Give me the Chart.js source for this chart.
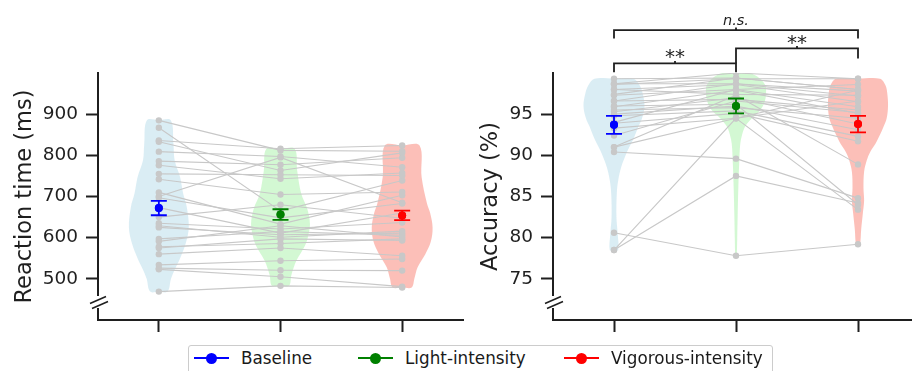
<!DOCTYPE html>
<html>
<head>
<meta charset="utf-8">
<script src="https://cdn.jsdelivr.net/npm/chart.js@4.4.1/dist/chart.umd.min.js"></script>
<style>
  html, body { margin: 0; padding: 0; background: #fff; overflow: hidden; width: 912px; height: 371px; }
  .panel { position: absolute; top: 0; width: 470px; height: 340px; }
  #legend { position: absolute; left: 188px; top: 345px; width: 585px; height: 34px; box-sizing: border-box;
            border: 1px solid #cccccc; border-radius: 3px; font-family: 'DejaVu Sans', sans-serif;
            font-size: 16.8px; color: #1a1a1a; }
  .item { position: absolute; top: 0; height: 24px; display: flex; align-items: center; white-space: nowrap; }
  .mark { position: relative; width: 35px; height: 2px; margin-right: 12px; }
  .mark i { position: absolute; left: 12px; top: -4.5px; width: 11px; height: 11px; border-radius: 50%; }
</style>
</head>
<body>
<div class="panel" style="left:0"><canvas id="rt"></canvas></div>
<div class="panel" style="left:456px"><canvas id="acc"></canvas></div>
<div id="legend"></div>
<script>
// conditions and colours of the mean markers
const conditions = ['Baseline', 'Light-intensity', 'Vigorous-intensity'];
const meanColors = ['blue', 'green', 'red'];

// reaction time (ms), one value per participant, same order in every array
const rtBaseline  = [885, 867, 836, 833, 809, 786, 776, 755, 742, 710, 700, 697, 673, 650, 635, 629, 625, 597, 591, 578, 575, 560, 534, 526, 523, 469];
const rtLight     = [812, 665, 816, 763, 797, 777, 743, 753, 705, 633, 795, 648, 611, 680, 621, 601, 607, 615, 629, 586, 597, 575, 544, 521, 505, 483];
const rtVigorous  = [810, 739, 824, 806, 771, 794, 757, 751, 711, 703, 685, 683, 660, 647, 637, 616, 611, 606, 602, 597, 593, 556, 548, 520, 481, 479];
const rtMeans  = [672, 656, 654];
const rtErrors = [17.5, 13, 11.5];
const rtTicks  = [500, 600, 700, 800, 900];

// accuracy (%)
const accBaseline = [99.3, 98.7, 98.7, 98.6, 98.0, 98.0, 97.4, 97.3, 96.6, 96.6, 96.0, 95.9, 95.5, 95.3, 95.0, 94.8, 94.0, 93.9, 93.3, 92.4, 91.0, 91.0, 90.4, 80.6, 78.5, 78.5];
const accLight    = [99.4, 100, 98.7, 99.3, 98.6, 97.4, 99.4, 98.0, 96.8, 98.7, 96.2, 97.9, 95.8, 97.0, 96.0, 95.4, 98.0, 95.1, 94.5, 96.6, 97.3, 94.5, 89.6, 77.8, 94.5, 87.5];
const accVigorous = [98.0, 99.3, 97.8, 99.3, 96.5, 97.3, 98.0, 95.9, 95.5, 97.2, 84.0, 95.1, 94.5, 93.8, 93.1, 92.3, 98.6, 91.7, 96.6, 95.2, 88.9, 83.4, 84.8, 79.2, 97.9, 84.2];
const accMeans  = [93.7, 96.0, 93.8];
const accErrors = [1.1, 0.9, 1.0];
const accTicks  = [75, 80, 85, 90, 95];
const accComparisons = [[0, 2, 'n.s.'], [0, 1, '**'], [1, 2, '**']];

// violin outlines: [value, half width]
const rtBaselineViolin = [[469, 0.072], [500, 0.1], [525, 0.135], [550, 0.175], [585, 0.22], [625, 0.246], [674, 0.23], [707, 0.2], [747, 0.175], [788, 0.13], [828, 0.12], [885, 0.098]];
const rtLightViolin = [[483, 0.07], [510, 0.09], [544, 0.13], [580, 0.2], [601, 0.225], [633, 0.242], [670, 0.22], [707, 0.17], [763, 0.137], [816, 0.116]];
const rtVigorousViolin = [[479, 0.078], [500, 0.1], [528, 0.127], [560, 0.19], [590, 0.235], [625, 0.25], [660, 0.23], [682, 0.205], [747, 0.16], [824, 0.143]];
const accBaselineViolin = [[78.5, 0.035], [80.5, 0.03], [82.5, 0.02], [85.4, 0.023], [87, 0.035], [88.6, 0.06], [90, 0.095], [91, 0.126], [92, 0.16], [93.5, 0.2], [94.5, 0.23], [96, 0.25], [97.5, 0.235], [98.5, 0.21], [99.3, 0.16]];
const accLightViolin = [[77.8, 0.006], [80, 0.01], [83, 0.014], [86, 0.019], [89, 0.026], [91.4, 0.035], [92.5, 0.05], [93.5, 0.075], [94.5, 0.13], [95.5, 0.2], [96.5, 0.235], [97.5, 0.246], [98.5, 0.24], [99.4, 0.19], [100, 0.11]];
const accVigorousViolin = [[79.2, 0.016], [81, 0.026], [83, 0.04], [84.5, 0.05], [86, 0.045], [88, 0.05], [89.4, 0.072], [90.4, 0.1], [91.4, 0.143], [92.5, 0.18], [93.5, 0.21], [94.5, 0.235], [96, 0.246], [97.5, 0.24], [98.5, 0.225], [99.3, 0.18]];

const AXIS = '#1f1f1f';
const violinColors = ['rgba(173,216,230,0.45)', 'rgba(144,238,144,0.4)', 'rgba(250,128,114,0.5)'];

Chart.defaults.font.family = "'DejaVu Sans', sans-serif";
Chart.defaults.color = AXIS;
Chart.defaults.animation = false;

function violinOutline(profile, i) {
  const lo = profile[0][0], hi = profile[profile.length - 1][0];
  const right = profile.map(([y, w]) => ({x: i + w, y}));
  const left = profile.slice().reverse().map(([y, w]) => ({x: i - w, y}));
  return [{x: i, y: lo}, ...right, {x: i, y: hi}, ...left, {x: i, y: lo}];
}

// mean +- error bars on top of everything
const errorBars = {
  id: 'errorBars',
  afterDatasetsDraw(chart, args, opts) {
    const {ctx, scales: {x, y}} = chart;
    ctx.save();
    ctx.lineWidth = 1.8;
    opts.means.forEach((m, i) => {
      const px = x.getPixelForValue(i);
      const top = y.getPixelForValue(m + opts.errors[i]);
      const bot = y.getPixelForValue(m - opts.errors[i]);
      ctx.strokeStyle = meanColors[i];
      ctx.beginPath();
      ctx.moveTo(px, top); ctx.lineTo(px, bot);
      ctx.moveTo(px - 8, top); ctx.lineTo(px + 8, top);
      ctx.moveTo(px - 8, bot); ctx.lineTo(px + 8, bot);
      ctx.stroke();
      ctx.fillStyle = meanColors[i];
      ctx.beginPath();
      ctx.arc(px, y.getPixelForValue(m), 4, 0, Math.PI * 2);
      ctx.fill();
    });
    ctx.restore();
  }
};

// broken y axis marks near the bottom
const axisBreak = {
  id: 'axisBreak',
  afterDraw(chart) {
    const {ctx, chartArea: {left, bottom}} = chart;
    ctx.save();
    ctx.fillStyle = '#fff';
    ctx.fillRect(left - 3, bottom - 24, 6, 12);
    ctx.strokeStyle = AXIS;
    ctx.lineWidth = 1.6;
    [[0, -20], [2, -15]].forEach(([dx, dy]) => {
      ctx.beginPath();
      ctx.moveTo(left + dx - 8, bottom + dy + 3.5);
      ctx.lineTo(left + dx + 8, bottom + dy - 3.5);
      ctx.stroke();
    });
    ctx.restore();
  }
};

// significance brackets above the accuracy panel
const brackets = {
  id: 'brackets',
  afterDraw(chart, args, opts) {
    if (!opts.items) return;
    const {ctx, scales: {x, y}} = chart;
    ctx.save();
    ctx.strokeStyle = AXIS;
    ctx.fillStyle = AXIS;
    ctx.lineWidth = 1.8;
    ctx.textAlign = 'center';
    ctx.textBaseline = 'alphabetic';
    opts.items.forEach(([from, to, label], k) => {
      const lv = opts.levels[k];
      const x1 = x.getPixelForValue(from), x2 = x.getPixelForValue(to);
      const yl = y.getPixelForValue(lv.level);
      const mid = (x1 + x2) / 2;
      ctx.beginPath();
      ctx.moveTo(x1, y.getPixelForValue(lv.legs[0]));
      ctx.lineTo(x1, yl); ctx.lineTo(x2, yl);
      ctx.lineTo(x2, y.getPixelForValue(lv.legs[1]));
      ctx.moveTo(mid, yl); ctx.lineTo(mid, yl - 2.5);
      ctx.stroke();
      ctx.font = label === 'n.s.' ? "italic 14.5px 'DejaVu Sans'" : "20px 'DejaVu Sans'";
      ctx.fillText(label, mid, y.getPixelForValue(lv.text));
    });
    ctx.restore();
  }
};

function makePanel(id, p) {
  const datasets = [];
  p.values.forEach((vals, i) => {
    datasets.push({
      type: 'line', data: violinOutline(p.violins[i], i), fill: 'shape',
      backgroundColor: violinColors[i], borderWidth: 0, pointRadius: 0, tension: 0.35, order: 3
    });
  });
  p.values[0].forEach((v, s) => {
    datasets.push({
      type: 'line', data: p.values.map((vals, i) => ({x: i, y: vals[s]})),
      borderColor: '#c8c8c8', borderWidth: 1.1, pointRadius: 0, fill: false, tension: 0, order: 2
    });
  });
  p.values.forEach((vals, i) => {
    datasets.push({
      type: 'scatter', data: vals.map(v => ({x: i, y: v})),
      backgroundColor: '#c8c8c8', borderWidth: 0, pointRadius: 3.2, order: 1
    });
  });
  datasets.push({
    type: 'scatter', data: p.means.map((m, i) => ({x: i, y: m})),
    backgroundColor: meanColors, borderWidth: 0, pointRadius: 4, order: 0
  });

  return new Chart(document.getElementById(id), {
    type: 'scatter',
    data: {datasets},
    plugins: [errorBars, axisBreak, brackets],
    options: {
      responsive: true,
      maintainAspectRatio: false,
      events: [],
      layout: {padding: {top: 73, right: 7, bottom: 0, left: 0}},
      plugins: {
        legend: {display: false},
        tooltip: {enabled: false},
        errorBars: {means: p.means, errors: p.errors},
        brackets: p.brackets || {}
      },
      scales: {
        x: {
          type: 'linear', min: -0.5, max: 2.5,
          afterBuildTicks: a => { a.ticks = conditions.map((c, i) => ({value: i})); },
          afterFit: a => { a.height = 20; },
          grid: {drawOnChartArea: false, tickLength: 12, tickWidth: 2, tickColor: AXIS},
          border: {display: true, color: AXIS, width: 2},
          ticks: {display: false}
        },
        y: {
          min: p.min, max: p.max,
          afterBuildTicks: a => { a.ticks = p.ticks.map(v => ({value: v})); },
          afterFit: a => { a.width = p.axisWidth; },
          grid: {drawOnChartArea: false, tickLength: 12, tickWidth: 2, tickColor: AXIS},
          border: {display: true, color: AXIS, width: 2},
          ticks: {font: {size: 18.5}, color: AXIS, padding: 8},
          title: {display: true, text: p.title, font: {size: 22.5}, color: AXIS, padding: {top: p.titlePad, bottom: 0}}
        }
      }
    }
  });
}

makePanel('rt', {
  values: [rtBaseline, rtLight, rtVigorous],
  violins: [rtBaselineViolin, rtLightViolin, rtVigorousViolin],
  means: rtMeans, errors: rtErrors, ticks: rtTicks,
  min: 400, max: 1000, title: 'Reaction time (ms)', axisWidth: 98, titlePad: 11.5
});

makePanel('acc', {
  values: [accBaseline, accLight, accVigorous],
  violins: [accBaselineViolin, accLightViolin, accVigorousViolin],
  means: accMeans, errors: accErrors, ticks: accTicks,
  min: 70, max: 100, title: 'Accuracy (%)', axisWidth: 97, titlePad: 22,
  brackets: {
    items: accComparisons,
    levels: [
      {level: 105.21, legs: [104.2, 104.2], text: 105.87},
      {level: 101.16, legs: [100.1, 100.1], text: 101.2},
      {level: 102.98, legs: [101.16, 101.77], text: 102.9}
    ]
  }
});

// legend box under both panels
const legend = document.getElementById('legend');
const itemLeft = [5, 169, 375];
conditions.forEach((name, i) => {
  const item = document.createElement('div');
  item.className = 'item';
  item.style.left = itemLeft[i] + 'px';
  item.innerHTML = '<span class="mark" style="background:' + meanColors[i] + '"><i style="background:' +
    meanColors[i] + '"></i></span>' + name;
  legend.appendChild(item);
});
</script>
</body>
</html>
